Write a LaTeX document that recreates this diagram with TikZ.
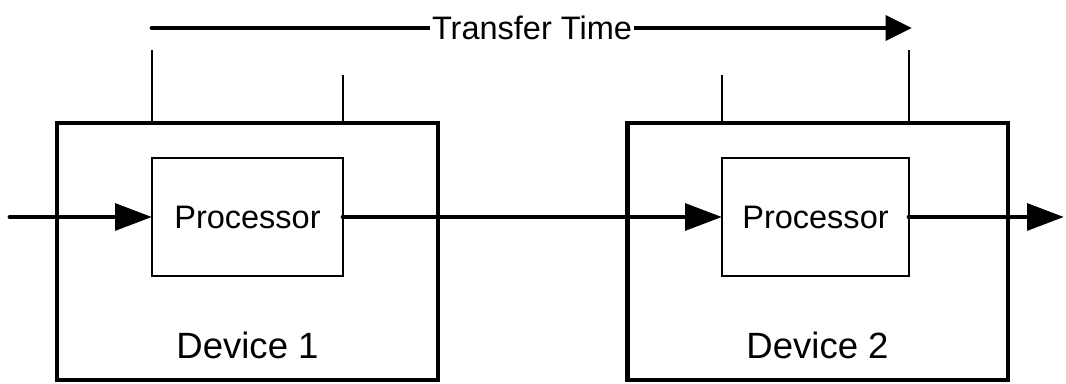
\documentclass[tikz,border=0pt]{standalone}
\usepackage{fontspec}
\setmainfont{Liberation Sans}
\usetikzlibrary{arrows.meta}

\tikzset{
  devbox/.style={draw,line width=2.8pt,minimum width=7.62cm,minimum height=5.14cm,outer sep=0pt},
  procbox/.style={draw,line width=0.7pt,minimum height=2.36cm,outer sep=0pt,font=\fontsize{18.5}{20}\selectfont},
  flow/.style={line width=2.8pt,line cap=round,-{Triangle[length=21pt,width=15pt]}},
  tick/.style={line width=0.7pt},
}

\begin{document}
\begin{tikzpicture}[x=0.02cm,y=-0.02cm]
\useasboundingbox (0,0) rectangle (1066,384);
% devices
\node[devbox] (dev1) at (247.5,251.5) {};
\node[devbox] (dev2) at (817.5,251.5) {};
\node[procbox,minimum width=3.82cm] (proc1) at (247.5,217) {Processor};
\node[procbox,minimum width=3.74cm] (proc2) at (815.5,217) {Processor};
\node[font=\fontsize{20.8}{22}\selectfont] (lab1) at (247.5,345) {Device 1};
\node[font=\fontsize{20.8}{22}\selectfont] (lab2) at (817.5,345) {Device 2};
% data path
\coordinate (in) at (10,217);
\coordinate (out) at (1064,217);
\draw[flow] (in) -- (proc1.west);
\draw[flow] (proc1.east) -- (proc2.west);
\draw[flow] (proc2.east) -- (out);
% transfer time
\coordinate (ts) at (152,28);
\coordinate (te) at (912,28);
\draw[line width=2.8pt,line cap=round,-{Triangle[length=15pt,width=14pt]}] (ts) -- node[fill=white,inner sep=1pt,font=\fontsize{18.5}{20}\selectfont] (tt) {Transfer Time} (te);
\draw[tick] (proc1.west |- dev1.north) -- (proc1.west |- 0,50);
\draw[tick] (proc1.east |- dev1.north) -- (proc1.east |- 0,75);
\draw[tick] (proc2.west |- dev2.north) -- (proc2.west |- 0,75);
\draw[tick] (proc2.east |- dev2.north) -- (proc2.east |- 0,50);
\end{tikzpicture}
\end{document}
